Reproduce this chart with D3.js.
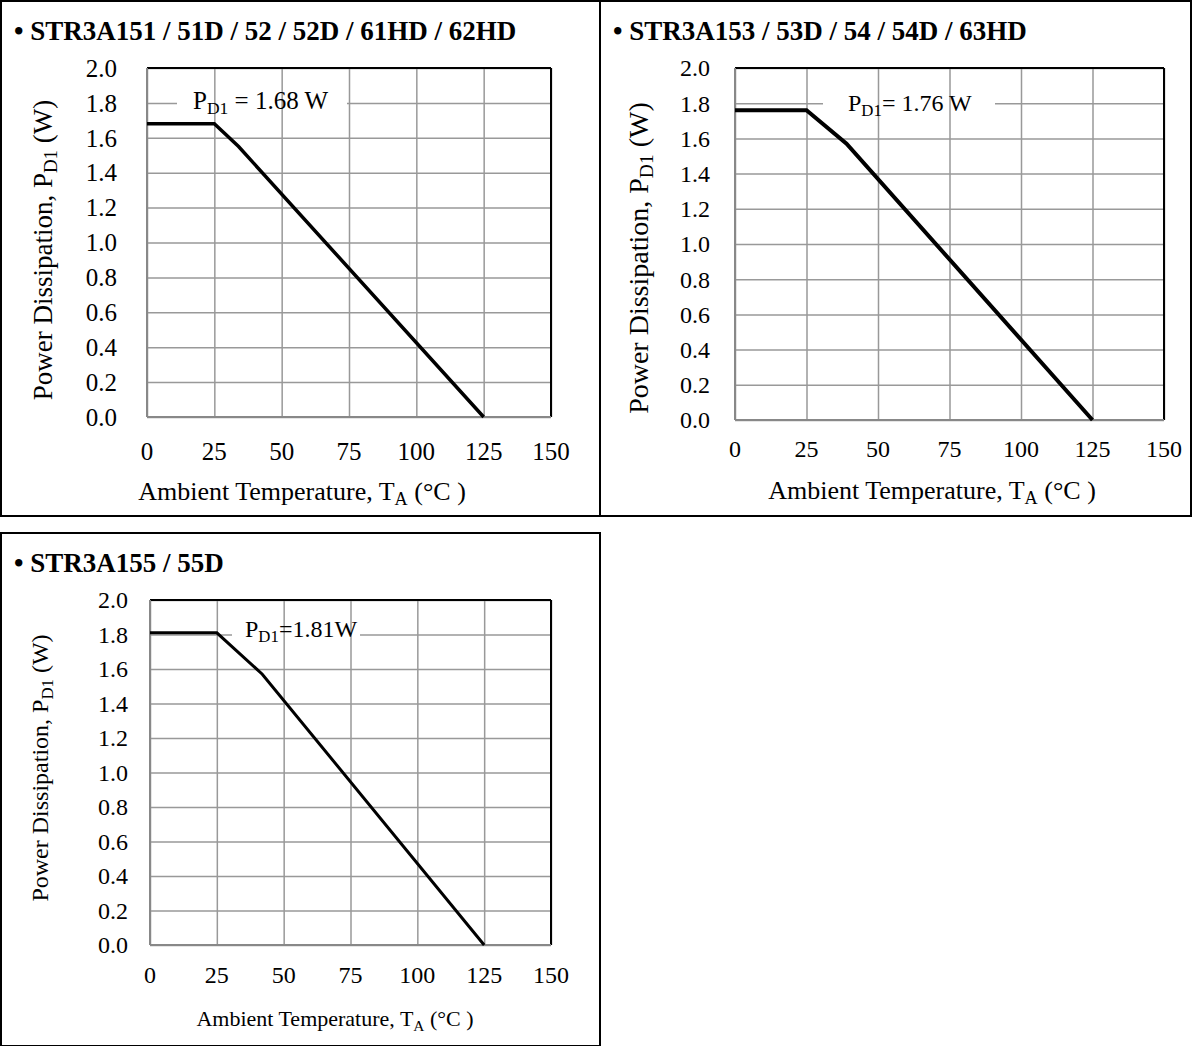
<!DOCTYPE html>
<html>
<head>
<meta charset="utf-8">
<script src="https://cdn.jsdelivr.net/npm/d3@7"></script>
<style>
  html, body { margin: 0; padding: 0; background: #fff; }
  svg { display: block; }
  text { font-family: "Liberation Serif", "Times New Roman", serif; fill: #000; }
</style>
</head>
<body>
<svg id="chart" width="1192" height="1046"></svg>
<script>
// ---------- data ----------
const xTicks = [0, 25, 50, 75, 100, 125, 150];
const yTicks = [0.0, 0.2, 0.4, 0.6, 0.8, 1.0, 1.2, 1.4, 1.6, 1.8, 2.0];
const titles = [
  "• STR3A151 / 51D / 52 / 52D / 61HD / 62HD",
  "• STR3A153 / 53D / 54 / 54D / 63HD",
  "• STR3A155 / 55D"
];
const temps1 = [0, 25, 34, 125];
const power1 = [1.68, 1.68, 1.55, 0];
const temps2 = [0, 25, 39, 125];
const power2 = [1.76, 1.76, 1.57, 0];
const temps3 = [0, 25, 42, 125];
const power3 = [1.81, 1.81, 1.57, 0];
const labelValues = [" = 1.68 W", "= 1.76 W", "=1.81W"];
const xTitle = ["Ambient Temperature, T", "A", " (°C )"];
const yTitle = ["Power Dissipation, P", "D1", " (W)"];

// ---------- layout ----------
const panels = [
  { temps: temps1, power: power1, title: titles[0], label: labelValues[0],
    box: [1, 1, 600, 516], plot: { l: 147, r: 551, t: 68, b: 417 },
    fs: 25, titleY: 40, yLabGap: 30, xLabY: 460, xTitleY: 500, xTitleC: 302, yTitleX: 52, yTitleC: 250,
    axFs: 26, yFs: 27, lab: { x: 193, y: 109, gx0: 177, gx1: 347 }, lw: 3.5 },
  { temps: temps2, power: power2, title: titles[1], label: labelValues[1],
    box: [600, 1, 1191, 516], plot: { l: 735, r: 1164, t: 68, b: 420 },
    fs: 24, titleY: 40, yLabGap: 25, xLabY: 457, xTitleY: 499, xTitleC: 932, yTitleX: 648, yTitleC: 258,
    axFs: 26, yFs: 28, lab: { x: 848, y: 111, gx0: 823, gx1: 995 }, lw: 4 },
  { temps: temps3, power: power3, title: titles[2], label: labelValues[2],
    box: [1, 533, 600, 1046], plot: { l: 150, r: 551, t: 600, b: 945 },
    fs: 24, titleY: 572, yLabGap: 22, xLabY: 983, xTitleY: 1026, xTitleC: 335, yTitleX: 48, yTitleC: 768,
    axFs: 22, yFs: 24, lab: { x: 245, y: 637, gx0: 232, gx1: 360 }, lw: 3 }
];

const svg = d3.select("#chart");
const gridColor = "#999";

panels.forEach(p => {
  const g = svg.append("g");
  const [bx0, by0, bx1, by1] = p.box;
  // panel frame
  g.append("rect").attr("x", bx0).attr("y", by0)
    .attr("width", bx1 - bx0).attr("height", by1 - by0)
    .attr("fill", "none").attr("stroke", "#000").attr("stroke-width", 2);

  // title
  g.append("text").attr("x", bx0 + 13).attr("y", p.titleY)
    .attr("font-size", 27).attr("font-weight", "bold").text(p.title);

  const x = d3.scaleLinear().domain([0, 150]).range([p.plot.l, p.plot.r]);
  const y = d3.scaleLinear().domain([0, 2]).range([p.plot.b, p.plot.t]);

  // horizontal grid
  g.append("g").attr("transform", `translate(${p.plot.l},0)`)
    .call(d3.axisLeft(y).tickValues(yTicks).tickSize(-(p.plot.r - p.plot.l)).tickFormat(""))
    .call(s => s.select(".domain").remove())
    .call(s => s.selectAll("line").attr("stroke", gridColor).attr("stroke-width", 1.5));

  // white background behind annotation (interrupts the horizontal gridline)
  g.append("rect").attr("x", p.lab.gx0).attr("y", y(1.8) - 4)
    .attr("width", p.lab.gx1 - p.lab.gx0).attr("height", 8).attr("fill", "#fff");

  // vertical grid
  g.append("g").attr("transform", `translate(0,${p.plot.b})`)
    .call(d3.axisBottom(x).tickValues(xTicks).tickSize(-(p.plot.b - p.plot.t)).tickFormat(""))
    .call(s => s.select(".domain").remove())
    .call(s => s.selectAll("line").attr("stroke", gridColor).attr("stroke-width", 1.5));

  // plot frame: top/right black, left/bottom gray
  g.append("line").attr("x1", p.plot.l).attr("x2", p.plot.r).attr("y1", p.plot.t).attr("y2", p.plot.t)
    .attr("stroke", "#000").attr("stroke-width", 2);
  g.append("line").attr("x1", p.plot.r).attr("x2", p.plot.r).attr("y1", p.plot.t).attr("y2", p.plot.b)
    .attr("stroke", "#000").attr("stroke-width", 2);
  g.append("line").attr("x1", p.plot.l).attr("x2", p.plot.l).attr("y1", p.plot.t).attr("y2", p.plot.b)
    .attr("stroke", "#888").attr("stroke-width", 2);
  g.append("line").attr("x1", p.plot.l).attr("x2", p.plot.r).attr("y1", p.plot.b).attr("y2", p.plot.b)
    .attr("stroke", "#888").attr("stroke-width", 2);

  // tick labels
  g.append("g").selectAll("text").data(yTicks).join("text")
    .attr("x", p.plot.l - p.yLabGap).attr("y", d => y(d))
    .attr("dy", "0.35em").attr("text-anchor", "end").attr("font-size", p.fs)
    .text(d => d.toFixed(1));
  g.append("g").selectAll("text").data(xTicks).join("text")
    .attr("x", d => x(d)).attr("y", p.xLabY)
    .attr("text-anchor", "middle").attr("font-size", p.fs)
    .text(d => d);

  // data line
  const pts = p.temps.map((t, i) => [t, p.power[i]]);
  g.append("path").datum(pts)
    .attr("d", d3.line().x(d => x(d[0])).y(d => y(d[1])))
    .attr("fill", "none").attr("stroke", "#000").attr("stroke-width", p.lw)
    .attr("stroke-linejoin", "miter");

  // annotation
  const at = g.append("text").attr("x", p.lab.x).attr("y", p.lab.y).attr("font-size", p.fs);
  at.append("tspan").text("P");
  at.append("tspan").attr("font-size", p.fs * 0.7).attr("dy", 5).text("D1");
  at.append("tspan").attr("dy", -5).text(p.label);

  // x title
  const xt = g.append("text").attr("x", p.xTitleC).attr("y", p.xTitleY)
    .attr("text-anchor", "middle").attr("font-size", p.axFs);
  xt.append("tspan").text(xTitle[0]);
  xt.append("tspan").attr("font-size", p.axFs * 0.7).attr("dy", 5).text(xTitle[1]);
  xt.append("tspan").attr("dy", -5).text(xTitle[2]);

  // y title
  const yt = g.append("text")
    .attr("transform", `translate(${p.yTitleX},${p.yTitleC}) rotate(-90)`)
    .attr("text-anchor", "middle").attr("font-size", p.yFs);
  yt.append("tspan").text(yTitle[0]);
  yt.append("tspan").attr("font-size", p.yFs * 0.7).attr("dy", 5).text(yTitle[1]);
  yt.append("tspan").attr("dy", -5).text(yTitle[2]);
});
</script>
</body>
</html>
